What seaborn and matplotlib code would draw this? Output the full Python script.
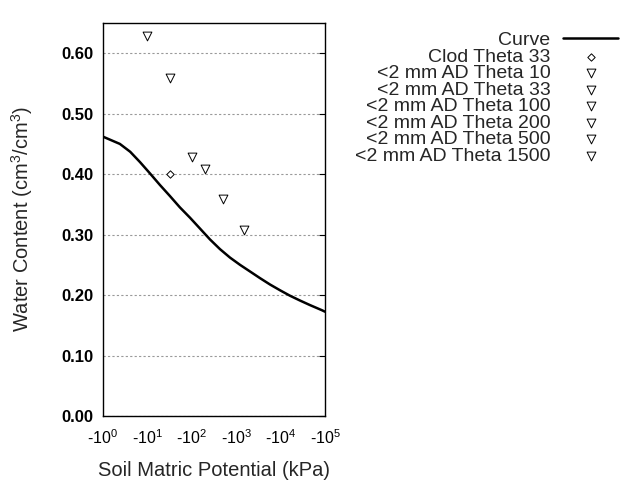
import numpy as np
import pandas as pd
import matplotlib
matplotlib.use("Agg")
import matplotlib.pyplot as plt
import seaborn as sns
from matplotlib.ticker import FixedLocator, FixedFormatter, NullLocator

# curve (kPa magnitude, water content)
curve_kpa = [1, 1.44, 2.4, 4.1, 6.8, 11.5, 19.2, 32, 54, 91, 153, 257, 431,
             725, 1220, 2050, 3440, 5770, 9680, 16200, 27300, 45700, 85000,
             100000]
curve_theta = [0.462, 0.457, 0.450, 0.437, 0.420, 0.401, 0.382, 0.364, 0.345,
               0.328, 0.310, 0.292, 0.276, 0.262, 0.250, 0.239, 0.228, 0.2175,
               0.208, 0.199, 0.191, 0.1835, 0.175, 0.1725]

# measured points
clod_kpa = [33]
clod_theta = [0.40]
ad_labels = ["<2 mm AD Theta 10", "<2 mm AD Theta 33", "<2 mm AD Theta 100",
             "<2 mm AD Theta 200", "<2 mm AD Theta 500", "<2 mm AD Theta 1500"]
ad_kpa = [10, 33, 100, 200, 500, 1500]
ad_theta = [0.629, 0.559, 0.429, 0.409, 0.359, 0.308]

xtick_vals = [1, 10, 100, 1000, 10000, 100000]
xtick_labels = [r"-$\mathregular{10^{%d}}$" % i for i in range(6)]
ytick_vals = [0.0, 0.1, 0.2, 0.3, 0.4, 0.5, 0.6]

sns.set_style("white")
plt.rcParams["font.family"] = ["Liberation Sans", "DejaVu Sans"]
plt.rcParams["mathtext.fontset"] = "custom"
plt.rcParams["mathtext.rm"] = "Liberation Sans"
plt.rcParams["axes.unicode_minus"] = False

fig = plt.figure(figsize=(6.4, 4.8), dpi=100)
ax = fig.add_axes([103 / 640, 64 / 480, 222 / 640, 393 / 480])

curve_df = pd.DataFrame({"kpa": curve_kpa, "theta": curve_theta})
sns.lineplot(data=curve_df, x="kpa", y="theta", ax=ax, color="black",
             linewidth=1.8, label="Curve", sort=False)

sns.scatterplot(x=clod_kpa, y=clod_theta, ax=ax, marker="D", s=14,
                facecolor="white", edgecolor="black", linewidth=0.7,
                label="Clod Theta 33", zorder=3)
for lab, xv, yv in zip(ad_labels, ad_kpa, ad_theta):
    sns.scatterplot(x=[xv], y=[yv], ax=ax, marker="v", s=40,
                    facecolor="white", edgecolor="black", linewidth=0.7,
                    label=lab, zorder=3)

ax.set_xscale("log")
ax.set_xlim(1, 100000)
ax.set_ylim(0, 0.65)
ax.xaxis.set_major_locator(FixedLocator(xtick_vals))
ax.xaxis.set_major_formatter(FixedFormatter(xtick_labels))
ax.xaxis.set_minor_locator(NullLocator())
ax.set_yticks(ytick_vals)
ax.set_yticklabels(["%.2f" % v for v in ytick_vals], fontweight="bold")
ax.tick_params(axis="x", direction="in", length=4, width=0.8, labelsize=11.5,
               pad=9, colors="black")
ax.tick_params(axis="y", direction="in", length=4, width=0.8, labelsize=12,
               right=True, pad=7, colors="black")
ax.grid(axis="y", linestyle=(0, (2, 2)), color="#999999", linewidth=0.8)

for sp in ax.spines.values():
    sp.set_color("black")
    sp.set_linewidth(1.0)

ax.set_xlabel("Soil Matric Potential (kPa)", fontsize=14.5, labelpad=10)
ax.set_ylabel(r"Water Content (cm$^3$/cm$^3$)", fontsize=14.5, labelpad=19)

leg = ax.legend(loc="upper right", bbox_to_anchor=(632 / 640, 1 - 18 / 480),
                bbox_transform=fig.transFigure, frameon=False,
                markerfirst=False, fontsize=14, labelspacing=-0.055,
                handlelength=2.85, handletextpad=0.65, borderpad=0.2)
for t in leg.get_texts():
    t.set_ha("right")

fig.savefig("out.png", dpi=100)
